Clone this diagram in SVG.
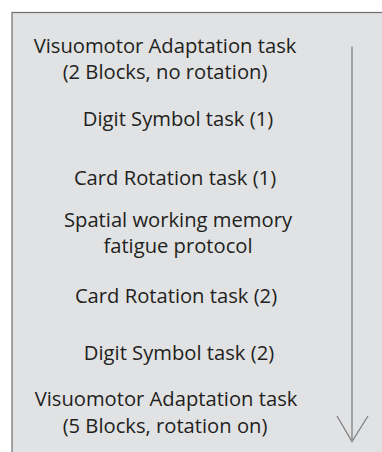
<svg xmlns="http://www.w3.org/2000/svg" width="382" height="452" viewBox="0 0 382 452">
<style>
.t{font-family:"Open Sans","Noto Sans","DejaVu Sans",sans-serif;font-size:20.2px;fill:#231f20;text-anchor:middle}
.c{stroke:#808080;stroke-width:1.3;fill:none}
</style>
<rect x="0" y="0" width="382" height="452" fill="#ffffff"/>
<rect x="12" y="12.5" width="380" height="450" fill="#e1e2e4" stroke="#6d6e71" stroke-width="1.2"/>
<g id="n1"><text class="t" x="165" y="52.5">Visuomotor Adaptation task</text><text class="t" x="165" y="79">(2 Blocks, no rotation)</text></g>
<g id="n2"><text class="t" x="178" y="126">Digit Symbol task (1)</text></g>
<g id="n3"><text class="t" x="175" y="185">Card Rotation task (1)</text></g>
<g id="n4"><text class="t" x="178" y="227">Spatial working memory</text><text class="t" x="178" y="253">fatigue protocol</text></g>
<g id="n5"><text class="t" x="176" y="303">Card Rotation task (2)</text></g>
<g id="n6"><text class="t" x="179" y="360">Digit Symbol task (2)</text></g>
<g id="n7"><text class="t" x="166" y="406">Visuomotor Adaptation task</text><text class="t" x="165" y="433">(5 Blocks, rotation on)</text></g>
<g id="connectors">
<line class="c" x1="352" y1="46.5" x2="352" y2="441"/>
<polyline class="c" points="337,416 352,441.5 368,416"/>
</g>
</svg>
